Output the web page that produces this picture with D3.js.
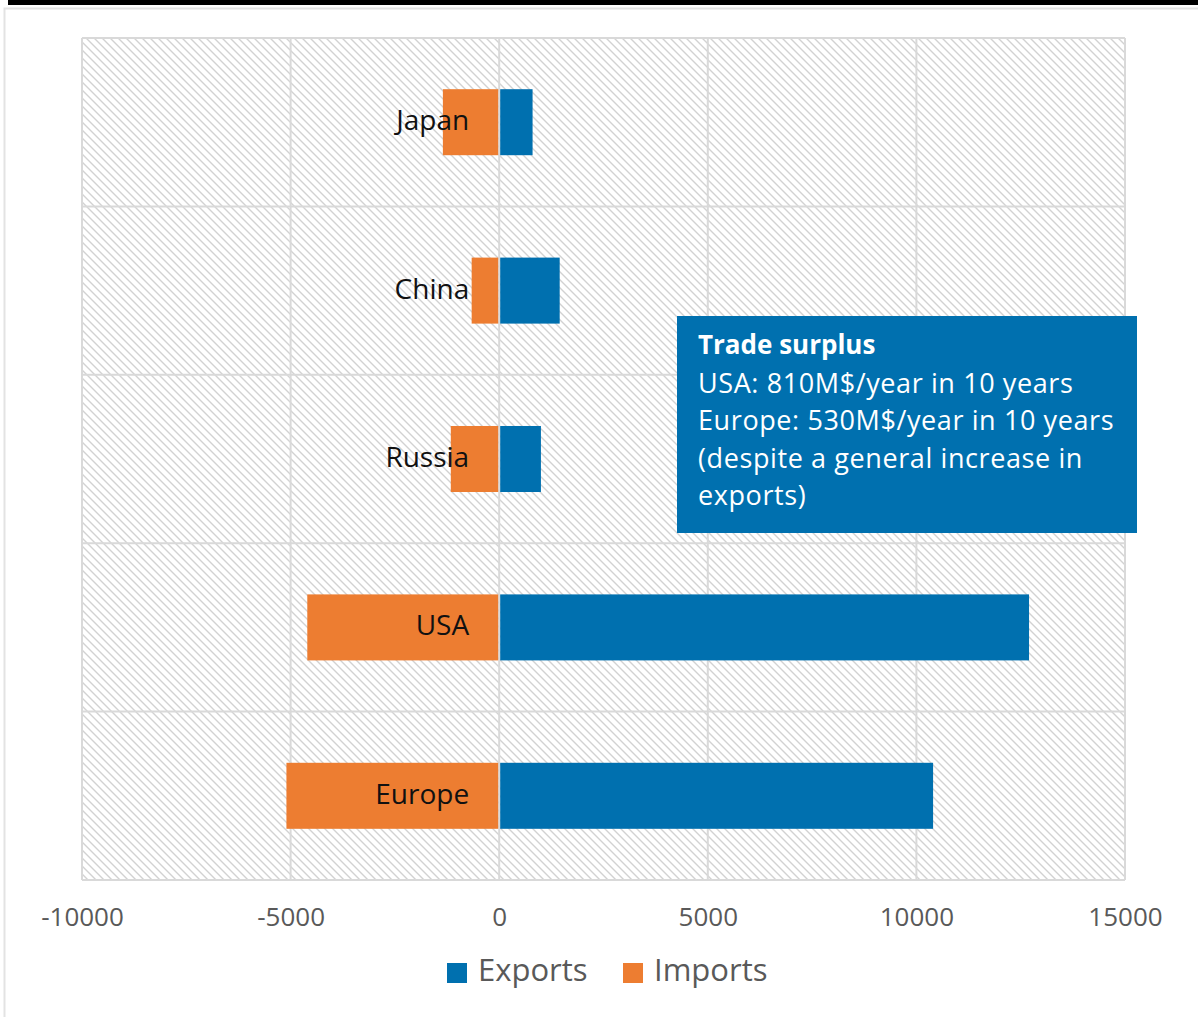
<!DOCTYPE html>
<html>
<head>
<meta charset="utf-8">
<script src="https://cdn.jsdelivr.net/npm/d3@7"></script>
<style>
  html, body { margin: 0; padding: 0; background: #fff; }
  svg { display: block; }
</style>
</head>
<body>
<svg id="chart" width="1198" height="1017"></svg>
<script>
// Trade volumes by partner (M$)
const categories = ["Japan", "China", "Russia", "USA", "Europe"];
const exportsValues = [800, 1450, 1000, 12700, 10400];
const importsValues = [-1350, -660, -1160, -4600, -5100];
const tickValues = [-10000, -5000, 0, 5000, 10000, 15000];
const tickLabels = ["-10000", "-5000", "0", "5000", "10000", "15000"];
const seriesNames = ["Exports", "Imports"];
const noteTitle = "Trade surplus";
const noteLines = [
  "USA: 810M$/year in 10 years",
  "Europe: 530M$/year in 10 years",
  "(despite a general increase in",
  "exports)"
];

const colors = { Exports: "#0070AF", Imports: "#ED7D31" };
const gridColor = "#d9d9d9";
const font = "'Open Sans', 'DejaVu Sans', sans-serif";

const svg = d3.select("#chart");
const plot = { left: 82, right: 1125, top: 38, bottom: 880 };

// Frame: dark strip on top, light border of the chart area
svg.append("rect").attr("x", 8).attr("y", 0).attr("width", 1190).attr("height", 5).attr("fill", "#000");
svg.append("path")
  .attr("d", "M4.5,1017 V8.5 H1198")
  .attr("fill", "none").attr("stroke", "#e3e3e3").attr("stroke-width", 2);

// Diagonal hatch fill for the plot area
const defs = svg.append("defs");
const pat = defs.append("pattern")
  .attr("id", "hatch").attr("patternUnits", "userSpaceOnUse")
  .attr("width", 8).attr("height", 8);
pat.append("rect").attr("width", 8).attr("height", 8).attr("fill", "#fff");
for (let r = 0; r < 8; r++) {
  pat.append("rect").attr("x", r).attr("y", r).attr("width", 1).attr("height", 1).attr("fill", "#d2d2d2");
  pat.append("rect").attr("x", (r + 1) % 8).attr("y", r).attr("width", 1).attr("height", 1).attr("fill", "#e6e6e6");
  pat.append("rect").attr("x", (r + 7) % 8).attr("y", r).attr("width", 1).attr("height", 1).attr("fill", "#ececec");
}

const x = d3.scaleLinear().domain([-10000, 15000]).range([plot.left, plot.right]);
const y = d3.scaleBand().domain(categories)
  .range([plot.top, plot.bottom]).paddingInner(0.608).paddingOuter(0.304);
const step = y.step();

svg.append("rect")
  .attr("x", plot.left).attr("y", plot.top)
  .attr("width", plot.right - plot.left).attr("height", plot.bottom - plot.top)
  .attr("fill", "url(#hatch)");

// Gridlines
const grid = svg.append("g").attr("stroke", gridColor).attr("stroke-width", 2);
grid.selectAll("line.v").data(tickValues).join("line")
  .attr("class", "v")
  .attr("x1", d => x(d)).attr("x2", d => x(d))
  .attr("y1", plot.top).attr("y2", plot.bottom);
grid.selectAll("line.h").data(d3.range(categories.length + 1)).join("line")
  .attr("class", "h")
  .attr("x1", plot.left).attr("x2", plot.right)
  .attr("y1", i => plot.top + i * step).attr("y2", i => plot.top + i * step);

// Bars
const rows = categories.map((c, i) => ({ c, exp: exportsValues[i], imp: importsValues[i] }));
const bars = svg.append("g");
bars.selectAll("rect.imp").data(rows).join("rect")
  .attr("class", "imp")
  .attr("x", d => x(d.imp)).attr("width", d => x(0) - x(d.imp) - 1)
  .attr("y", d => y(d.c)).attr("height", y.bandwidth())
  .attr("fill", colors.Imports);
bars.selectAll("rect.exp").data(rows).join("rect")
  .attr("class", "exp")
  .attr("x", x(0) + 1).attr("width", d => x(d.exp) - x(0) - 1)
  .attr("y", d => y(d.c)).attr("height", y.bandwidth())
  .attr("fill", colors.Exports);

// Category labels, right-aligned next to the zero line
svg.append("g").selectAll("text").data(categories).join("text")
  .attr("x", x(0) - 30)
  .attr("y", d => y(d) + y.bandwidth() / 2 + 8)
  .attr("text-anchor", "end")
  .attr("font-family", font).attr("font-size", 28)
  .attr("fill", "#111")
  .text(d => d);

// X axis labels
const axis = d3.axisBottom(x).tickValues(tickValues).tickSize(0).tickPadding(0)
  .tickFormat((d, i) => tickLabels[i]);
const ax = svg.append("g").attr("transform", `translate(0, ${plot.bottom})`).call(axis);
ax.select(".domain").remove();
ax.selectAll("text")
  .attr("dy", null).attr("y", 46)
  .attr("font-family", font).attr("font-size", 26)
  .attr("fill", "#595959");

// Legend
const legend = svg.append("g").attr("font-family", font).attr("font-size", 31).attr("fill", "#595959");
const legendX = [447, 623];
seriesNames.forEach((s, i) => {
  legend.append("rect").attr("x", legendX[i]).attr("y", 963).attr("width", 20).attr("height", 20).attr("fill", colors[s]);
  legend.append("text").attr("x", legendX[i] + 31).attr("y", 981).text(s);
});

// Annotation box
const note = svg.append("g");
note.append("rect").attr("x", 677).attr("y", 316).attr("width", 460).attr("height", 217).attr("fill", colors.Exports);
note.append("text").attr("x", 698).attr("y", 354)
  .attr("font-family", font).attr("font-size", 26).attr("font-weight", "bold").attr("fill", "#fff")
  .text(noteTitle);
note.selectAll("text.line").data(noteLines).join("text")
  .attr("class", "line")
  .attr("x", 698).attr("y", (d, i) => 393 + i * 37.3)
  .attr("font-family", font).attr("font-size", 27).attr("letter-spacing", 0.6).attr("fill", "#fff")
  .text(d => d);
</script>
</body>
</html>
